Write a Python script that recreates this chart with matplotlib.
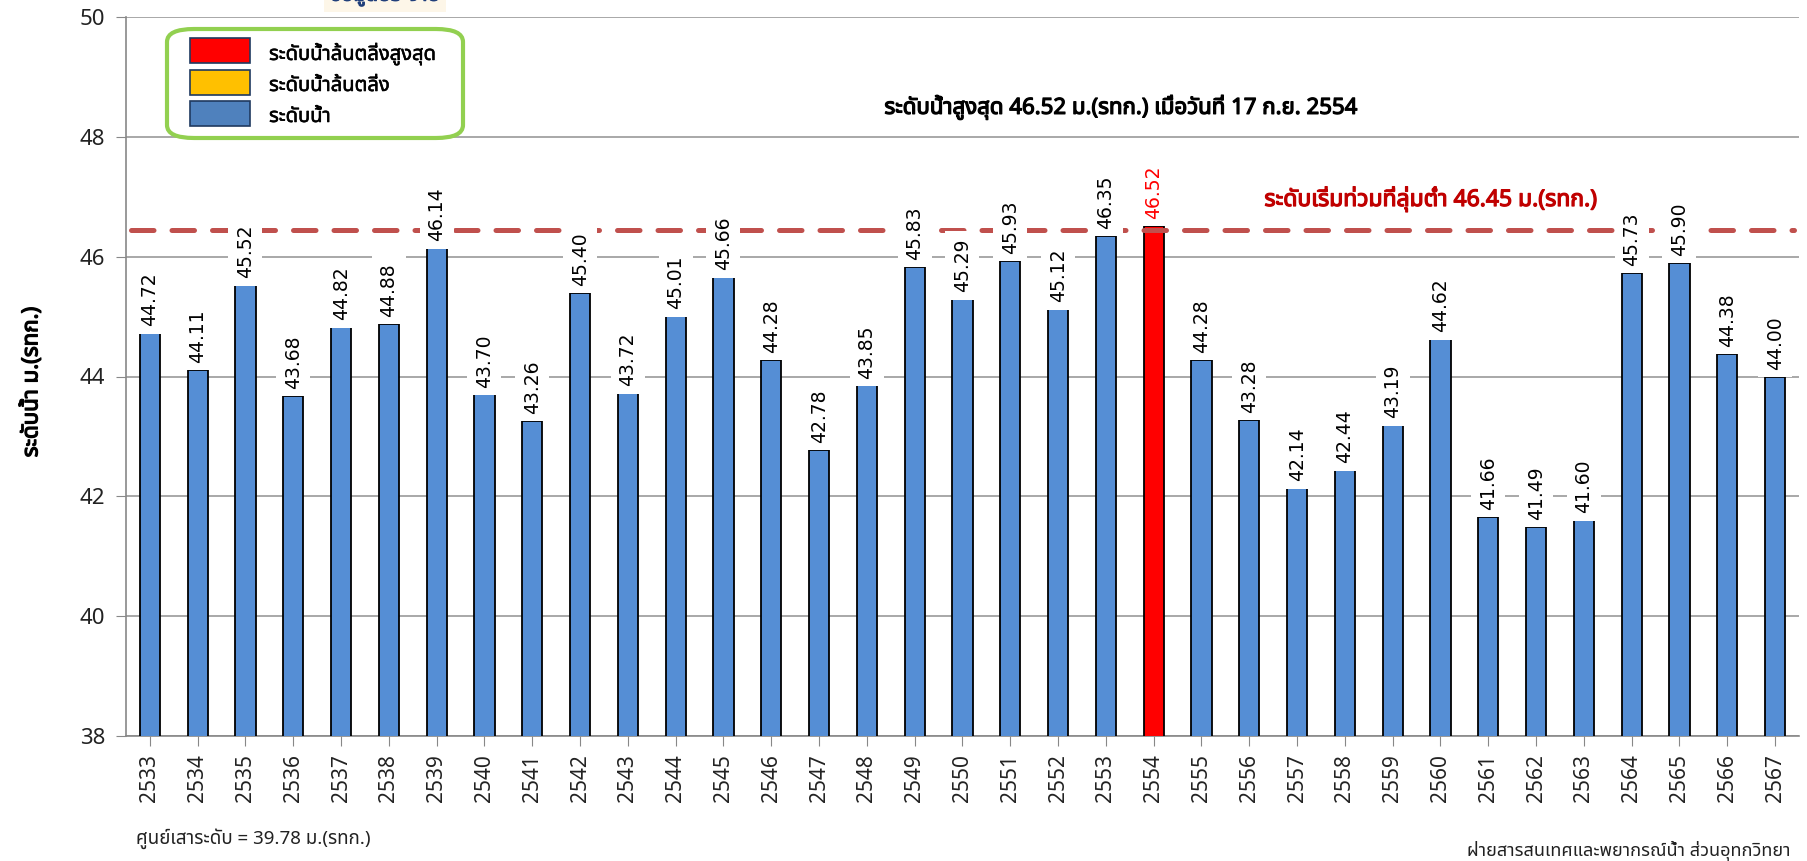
import matplotlib
matplotlib.use("Agg")
import matplotlib.pyplot as plt
from matplotlib import font_manager
from matplotlib.ft2font import FT2Font
from matplotlib.patches import FancyBboxPatch, Rectangle
import matplotlib.patheffects as pe
import numpy as np

# ---------------- data ----------------
years = ["2533", "2534", "2535", "2536", "2537", "2538", "2539", "2540", "2541", "2542",
         "2543", "2544", "2545", "2546", "2547", "2548", "2549", "2550", "2551", "2552",
         "2553", "2554", "2555", "2556", "2557", "2558", "2559", "2560", "2561", "2562",
         "2563", "2564", "2565", "2566", "2567"]
levels = [44.72, 44.11, 45.52, 43.68, 44.82, 44.88, 46.14, 43.70, 43.26, 45.40,
          43.72, 45.01, 45.66, 44.28, 42.78, 43.85, 45.83, 45.29, 45.93, 45.12,
          46.35, 46.52, 44.28, 43.28, 42.14, 42.44, 43.19, 44.62, 41.66, 41.49,
          41.60, 45.73, 45.90, 44.38, 44.00]
max_year = "2554"
flood_level = 46.45
y_ticks = [38, 40, 42, 44, 46, 48, 50]
legend_labels = ["ระดับน้ำล้นตลิ่งสูงสุด", "ระดับน้ำล้นตลิ่ง", "ระดับน้ำ"]
title_text = "ระดับน้ำสูงสุด 46.52 ม.(รทก.) เมื่อวันที่ 17 ก.ย. 2554"
flood_text = "ระดับเริ่มท่วมที่ลุ่มต่ำ 46.45 ม.(รทก.)"
ylabel_text = "ระดับน้ำ ม.(รทก.)"
footer_left = "ศูนย์เสาระดับ = 39.78 ม.(รทก.)"
footer_right = "ฝ่ายสารสนเทศและพยากรณ์น้ำ ส่วนอุทกวิทยา"
top_clip_text = "ข้อมูลประจำปี"

# ---------------- fonts ----------------
def find_thai():
    prefs = ['Tahoma', 'Noto Sans Thai', 'Noto Sans Thai UI', 'Leelawadee UI', 'Loma', 'Garuda',
             'Sarabun', 'Kinnari', 'Umpush', 'Waree', 'Tlwg Typo', 'Norasi', 'Laksaman']
    cands = {}
    for f in font_manager.fontManager.ttflist:
        if f.name in cands:
            continue
        try:
            cm = FT2Font(f.fname).get_charmap()
        except Exception:
            continue
        if 0x0E19 in cm and 0x0E49 in cm:
            cands[f.name] = f
    for p in prefs:
        if p in cands:
            return p
    return next(iter(cands), None)

thai = find_thai()
fam = [thai, 'Noto Sans', 'DejaVu Sans'] if thai else ['Noto Sans', 'DejaVu Sans']
plt.rcParams['font.family'] = fam

def bold(color, w=1.0):
    return [pe.withStroke(linewidth=w, foreground=color)]

W, H = 1808, 861
fig = plt.figure(figsize=(W / 100, H / 100), dpi=100)
ax = fig.add_axes([126 / W, 1 - 736 / H, (1799 - 126) / W, (736 - 17) / H])

bar_blue = "#558ED5"
x = np.arange(len(years))
colors = ["#FF0000" if y == max_year else bar_blue for y in years]
ax.bar(x, levels, width=0.42, bottom=0, color=colors, edgecolor="black", linewidth=1.3, zorder=3)

ax.set_ylim(38, 50)
ax.set_xlim(-0.5, len(years) - 0.5)
ax.set_yticks(y_ticks)
ax.set_yticklabels([str(t) for t in y_ticks], fontsize=16, color="#222222")
ax.set_xticks(x)
ax.set_xticklabels(years, rotation=90, fontsize=15, color="#222222")
ax.tick_params(axis="y", length=7, color="#888888", pad=8)
ax.tick_params(axis="x", length=7, color="#888888", pad=6)
ax.yaxis.grid(True, color="#9A9A9A", linewidth=1.2, zorder=0)
ax.set_axisbelow(True)
for s in ["top", "right"]:
    ax.spines[s].set_visible(False)
ax.spines["left"].set_color("#888888")
ax.spines["bottom"].set_color("#888888")
ax.spines["left"].set_linewidth(1.2)
ax.spines["bottom"].set_linewidth(1.2)

# flood level dashed line
ax.plot([-0.4, len(years) - 0.6], [flood_level, flood_level], color="#C0504D", linewidth=3.6,
        dashes=(4.5, 3.6), dash_capstyle="round", zorder=4)

# value labels
for xi, v, y in zip(x, levels, years):
    col = "#FF0000" if y == max_year else "black"
    ax.annotate(f"{v:.2f}", (xi, v), xytext=(0, 5), textcoords="offset points",
                rotation=90, ha="center", va="bottom", fontsize=13.5, color=col,
                family=['DejaVu Sans'], zorder=5,
                bbox=dict(boxstyle="square,pad=0.4", fc="white", ec="none"))

# title & flood label
fig.text(1121 / W, 1 - 107 / H, title_text, ha="center", va="center", fontsize=16,
         fontweight="bold", color="black", path_effects=bold("black", 0.9))
fig.text(1597 / W, 1 - 199 / H, flood_text, ha="right", va="center", fontsize=16.5,
         fontweight="bold", color="#C00000", path_effects=bold("#C00000", 0.9))

# y label
fig.text(31 / W, 1 - 382 / H, ylabel_text, rotation=90, ha="center", va="center",
         fontsize=16, fontweight="bold", path_effects=bold("black", 0.9))

# footers
fig.text(136 / W, 1 - 839 / H, footer_left, ha="left", va="center", fontsize=13.5, color="#222222")
fig.text(1791 / W, 1 - 851 / H, footer_right, ha="right", va="center", fontsize=13, color="#222222")

# clipped text at very top (partially outside the figure, as in the reference)
fig.text(385 / W, 1 + 6 / H, top_clip_text, ha="center", va="center", fontsize=15,
         fontweight="bold", color="#1F3E7A", path_effects=bold("#1F3E7A", 0.8),
         bbox=dict(boxstyle="square,pad=0.3", fc="#FDF6E8", ec="none"))

# legend box
box = FancyBboxPatch((167 / W, 1 - 138 / H), (463 - 167) / W, (138 - 29) / H,
                     boxstyle="round,pad=0,rounding_size=0.015", transform=fig.transFigure,
                     fc="white", ec="#92D050", lw=3, zorder=10)
fig.add_artist(box)
leg_colors = ["#FF0000", "#FFC000", "#4F81BD"]
leg_y = [38, 70, 101]
for c, yy, lab in zip(leg_colors, leg_y, legend_labels):
    fig.add_artist(Rectangle((190 / W, 1 - (yy + 25) / H), 60 / W, 25 / H,
                             transform=fig.transFigure, fc=c, ec="#1F3A60", lw=1.2, zorder=11))
    fig.text(269 / W, 1 - (yy + 16) / H, lab, ha="left", va="center", fontsize=14.5, zorder=12,
             path_effects=bold("black", 0.4))

fig.savefig("out.png", dpi=100)
